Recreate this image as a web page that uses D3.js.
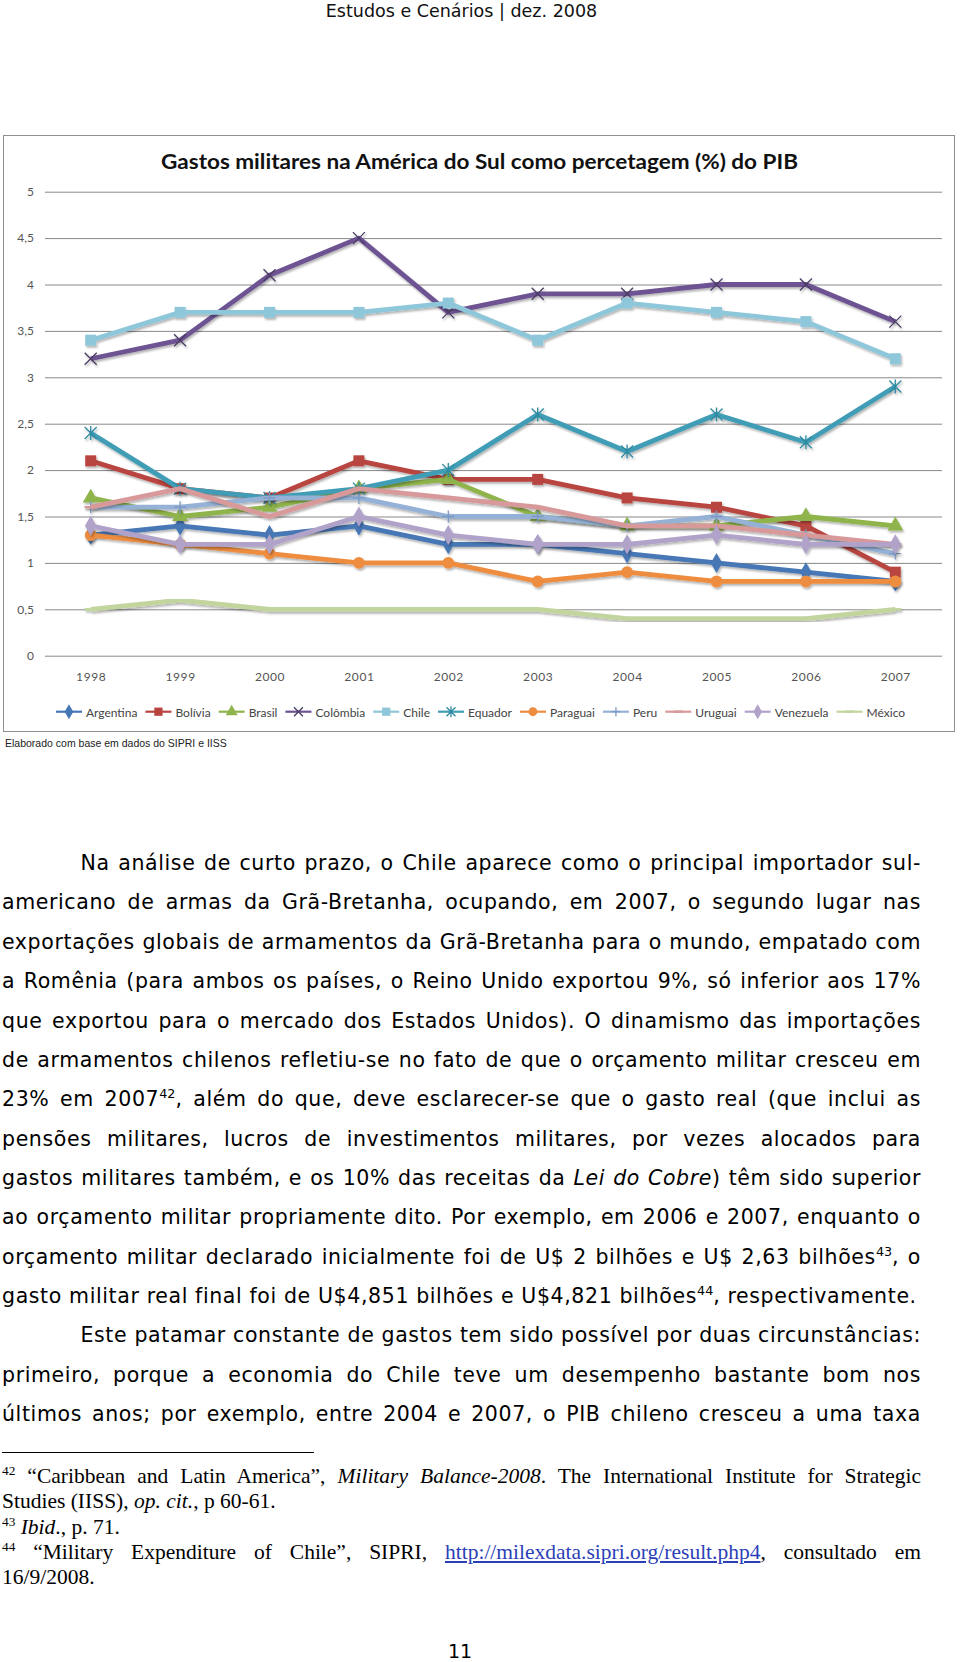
<!DOCTYPE html>
<html>
<head>
<meta charset="utf-8">
<script src="https://cdn.jsdelivr.net/npm/d3@7"></script>
<style>
  body { margin: 0; width: 960px; height: 1662px; background: #fff; position: relative; overflow: hidden; }
  #chart { position: absolute; left: 0; top: 0; }
  .ln { position: absolute; white-space: nowrap; color: #000; }
  .ln sup { font-size: 0.62em; vertical-align: 0.6em; line-height: 0; letter-spacing: 0; }
  .ln a { color: #2b3fb8; text-decoration: underline; }
  #head { position: absolute; left: 0; width: 923px; top: 0px; text-align: center;
          font: 17.5px "DejaVu Sans", sans-serif; line-height: 22px; color: #111; }
  #pagenum { position: absolute; left: 0; width: 920px; top: 1640px; text-align: center;
             font: 19px "DejaVu Sans", sans-serif; line-height: 22px; }
  #rule { position: absolute; left: 2px; top: 1452px; width: 312px; height: 1px; background: #000; }
</style>
</head>
<body>
<div id="head">Estudos e Cenários | dez. 2008</div>
<svg id="chart" width="960" height="760"></svg>
<div id="text"></div>
<div id="rule"></div>
<div id="pagenum">11</div>
<script>
// dados do gráfico (% do PIB)
const years = [1998, 1999, 2000, 2001, 2002, 2003, 2004, 2005, 2006, 2007];
const yTicks = [0, 0.5, 1, 1.5, 2, 2.5, 3, 3.5, 4, 4.5, 5];

const argentina = [1.3, 1.4, 1.3, 1.4, 1.2, 1.2, 1.1, 1.0, 0.9, 0.8];
const bolivia   = [2.1, 1.8, 1.7, 2.1, 1.9, 1.9, 1.7, 1.6, 1.4, 0.9];
const brasil    = [1.7, 1.5, 1.6, 1.8, 1.9, 1.5, 1.4, 1.4, 1.5, 1.4];
const colombia  = [3.2, 3.4, 4.1, 4.5, 3.7, 3.9, 3.9, 4.0, 4.0, 3.6];
const chile     = [3.4, 3.7, 3.7, 3.7, 3.8, 3.4, 3.8, 3.7, 3.6, 3.2];
const equador   = [2.4, 1.8, 1.7, 1.8, 2.0, 2.6, 2.2, 2.6, 2.3, 2.9];
const paraguai  = [1.3, 1.2, 1.1, 1.0, 1.0, 0.8, 0.9, 0.8, 0.8, 0.8];
const peru      = [1.6, 1.6, 1.7, 1.7, 1.5, 1.5, 1.4, 1.5, 1.3, 1.1];
const uruguai   = [1.6, 1.8, 1.5, 1.8, 1.7, 1.6, 1.4, 1.4, 1.3, 1.2];
const venezuela = [1.4, 1.2, 1.2, 1.5, 1.3, 1.2, 1.2, 1.3, 1.2, 1.2];
const mexico    = [0.5, 0.6, 0.5, 0.5, 0.5, 0.5, 0.4, 0.4, 0.4, 0.5];

const seriesNames = ["Argentina", "Bolívia", "Brasil", "Colômbia", "Chile", "Equador",
                     "Paraguai", "Peru", "Uruguai", "Venezuela", "México"];
const seriesValues = [argentina, bolivia, brasil, colombia, chile, equador,
                      paraguai, peru, uruguai, venezuela, mexico];
const seriesColors = ["#4677b5", "#b9443f", "#8fb44c", "#6d5392", "#8ec6da", "#3f9db5",
                      "#ee8d3f", "#95b1d6", "#d8999a", "#b0a2c8", "#c2d59f"];
const markerColors = ["#3d6aa6", "#b23a37", "#86ad42", "#4a3a63", "#8ec6da", "#2f8aa1",
                      "#ee8d3f", "#7b98c4", "#d8999a", "#a896c2", "#c2d59f"];
const seriesMarkers = ["diamond", "square", "triangle", "x", "square", "asterisk",
                       "circle", "plus", "dash", "diamond", "dash"];

const svg = d3.select("#chart");

const x = d3.scalePoint().domain(years).range([46, 940]).padding(0.5);
const y = d3.scaleLinear().domain([0, 5]).range([655.7, 191.7]);

const defs = svg.append("defs");
defs.append("filter").attr("id", "sh")
    .attr("x", "-5%").attr("y", "-5%").attr("width", "110%").attr("height", "120%")
  .append("feDropShadow")
    .attr("dx", 1.2).attr("dy", 2).attr("stdDeviation", 1.3)
    .attr("flood-color", "#000").attr("flood-opacity", 0.3);

// moldura
svg.append("rect")
    .attr("x", 3.5).attr("y", 135.5).attr("width", 951).attr("height", 596)
    .attr("fill", "#fff").attr("stroke", "#8f8f8f");

// título
svg.append("text")
    .attr("x", 479.5).attr("y", 168.5)
    .attr("text-anchor", "middle")
    .attr("textLength", 637).attr("lengthAdjust", "spacingAndGlyphs")
    .style("font-family", "Lato, 'Open Sans', sans-serif")
    .style("font-weight", "bold").style("font-size", "20.5px").style("fill", "#111")
    .text("Gastos militares na América do Sul como percetagem (%) do PIB");

// eixo y + linhas de grade
const ptBR = d3.formatLocale({ decimal: ",", thousands: ".", grouping: [3], currency: ["", ""] });
const yAxis = svg.append("g")
    .attr("transform", "translate(45,0)")
    .call(d3.axisLeft(y).tickValues(yTicks).tickSize(-897).tickPadding(11).tickFormat(ptBR.format("~g")));
yAxis.select(".domain").remove();
yAxis.selectAll("line").attr("stroke", "#888").attr("stroke-width", 1);
yAxis.selectAll("text").style("font-family", "Lato, sans-serif").style("font-size", "12px").style("fill", "#555");

// eixo x
const xAxis = svg.append("g")
    .attr("transform", "translate(0,655.7)")
    .call(d3.axisBottom(x).tickSize(0).tickPadding(17));
xAxis.select(".domain").remove();
xAxis.selectAll("text").style("font-family", "Lato, sans-serif").style("font-size", "12px")
    .style("fill", "#555").style("letter-spacing", "0.6px");

function drawMarker(g, type, cx, cy, fill, stroke, scale = 1) {
  const s = 6 * scale;
  if (type === "diamond" || type === "square" || type === "triangle" || type === "circle") {
    const sym = { diamond: d3.symbolDiamond, square: d3.symbolSquare, triangle: d3.symbolTriangle, circle: d3.symbolCircle }[type];
    const size = { diamond: 115, square: 121, triangle: 110, circle: 110 }[type] * scale * scale;
    g.append("path")
        .attr("d", d3.symbol(sym, size)())
        .attr("transform", `translate(${cx},${cy})`)
        .attr("fill", fill);
    return;
  }
  let d = "";
  if (type === "x" || type === "asterisk") d += `M${cx - s},${cy - s}L${cx + s},${cy + s}M${cx - s},${cy + s}L${cx + s},${cy - s}`;
  if (type === "asterisk") d += `M${cx},${cy - s - 1}L${cx},${cy + s + 1}`;
  if (type === "plus") d += `M${cx - s},${cy}L${cx + s},${cy}M${cx},${cy - s}L${cx},${cy + s}`;
  if (type === "dash") d += `M${cx - s},${cy}L${cx + s},${cy}`;
  g.append("path").attr("d", d).attr("fill", "none")
      .attr("stroke", stroke).attr("stroke-width", type === "dash" ? 2.5 : 1.3);
}

const line = d3.line().x((d, i) => x(years[i])).y(d => y(d));

seriesValues.forEach((vals, k) => {
  const g = svg.append("g").attr("filter", "url(#sh)");
  g.append("path")
      .attr("d", line(vals))
      .attr("fill", "none")
      .attr("stroke", seriesColors[k])
      .attr("stroke-width", 4.8)
      .attr("stroke-linejoin", "round");
  vals.forEach((v, i) => drawMarker(g, seriesMarkers[k], x(years[i]), y(v), seriesColors[k], markerColors[k]));
});

// legenda
const legend = svg.append("g");
let lx = 0;
seriesNames.forEach((name, k) => {
  const it = legend.append("g");
  it.append("line").attr("x1", 0).attr("x2", 26).attr("y1", 0).attr("y2", 0)
      .attr("stroke", seriesColors[k]).attr("stroke-width", 2.2);
  drawMarker(it, seriesMarkers[k], 13, 0, seriesColors[k], markerColors[k], 0.75);
  const t = it.append("text").attr("x", 30).attr("y", 5)
      .style("font-family", "Lato, sans-serif").style("font-size", "12px")
      .style("fill", "#444")
      .text(name);
  const w = 30 + t.node().getComputedTextLength();
  it.attr("transform", `translate(${lx},0)`);
  lx += w + 8;
});
const legendW = lx - 8;
legend.attr("transform", `translate(${480.5 - legendW / 2},711.7)`);

// fonte
svg.append("text")
    .attr("x", 5).attr("y", 747)
    .style("font-family", "'Liberation Sans', Arial, sans-serif").style("font-size", "10.5px")
    .style("fill", "#222")
    .text("Elaborado com base em dados do SIPRI e IISS");

// texto da página
const bodyLines = [
  "Na análise de curto prazo, o Chile aparece como o principal importador sul-",
  "americano de armas da Grã-Bretanha, ocupando, em 2007, o segundo lugar nas",
  "exportações globais de armamentos da Grã-Bretanha para o mundo, empatado com",
  "a Romênia (para ambos os países, o Reino Unido exportou 9%, só inferior aos 17%",
  "que exportou para o mercado dos Estados Unidos). O dinamismo das importações",
  "de armamentos chilenos refletiu-se no fato de que o orçamento militar cresceu em",
  "23% em 2007<sup>42</sup>, além do que, deve esclarecer-se que o gasto real (que inclui as",
  "pensões militares, lucros de investimentos militares, por vezes alocados para",
  "gastos militares também, e os 10% das receitas da <i>Lei do Cobre</i>) têm sido superior",
  "ao orçamento militar propriamente dito. Por exemplo, em 2006 e 2007, enquanto o",
  "orçamento militar declarado inicialmente foi de U$ 2 bilhões e U$ 2,63 bilhões<sup>43</sup>, o",
  "gasto militar real final foi de U$4,851 bilhões e U$4,821 bilhões<sup>44</sup>, respectivamente.",
  "Este patamar constante de gastos tem sido possível por duas circunstâncias:",
  "primeiro, porque a economia do Chile teve um desempenho bastante bom nos",
  "últimos anos; por exemplo, entre 2004 e 2007, o PIB chileno cresceu a uma taxa"
];
const bodyIndent = [0, 12];
const bodyRagged = [11];

const noteLines = [
  "<sup>42</sup> “Caribbean and Latin America”, <i>Military Balance-2008</i>. The International Institute for Strategic",
  "Studies (IISS), <i>op. cit.</i>, p 60-61.",
  "<sup>43</sup> <i>Ibid</i>., p. 71.",
  "<sup>44</sup> “Military Expenditure of Chile”, SIPRI, <a>http://milexdata.sipri.org/result.php4</a>, consultado em",
  "16/9/2008."
];
const noteJustified = [0, 3];

const textBox = d3.select("#text");
const leftX = 2, rightX = 921, indentX = 80.5;

function placeLine(html, opts) {
  const div = textBox.append("div").attr("class", "ln")
      .style("left", opts.left + "px")
      .style("top", opts.top + "px")
      .style("font-family", opts.font)
      .style("font-size", opts.size + "px")
      .style("letter-spacing", (opts.ls || 0) + "px")
      .style("line-height", opts.lh + "px");
  const span = div.append("span").html(html);
  if (opts.justify) {
    const w = span.node().getBoundingClientRect().width;
    const n = span.node().textContent.split(" ").length - 1;
    const target = rightX - opts.left;
    if (n > 0) span.style("word-spacing", ((target - w) / n) + "px");
  }
  return span;
}

// espaçamento das letras ajustado pela última linha do parágrafo (não justificada)
const bodyFont = "'DejaVu Sans', Verdana, sans-serif";
const bodySize = 20.5;
const probe = placeLine(bodyLines[11], { left: leftX, top: -200, font: bodyFont, size: bodySize, lh: 24, justify: false });
const probeW = probe.node().getBoundingClientRect().width;
const bodyLS = Math.max(0, Math.min(1, (916 - probeW) / probe.node().textContent.length));
probe.node().parentNode.remove();

bodyLines.forEach((t, i) => {
  const left = bodyIndent.includes(i) ? indentX : leftX;
  placeLine(t, {
    left, top: 864.5 + i * 39.36 - 13.4,
    font: bodyFont, size: bodySize, lh: 24, ls: bodyLS,
    justify: !bodyRagged.includes(i)
  });
});

noteLines.forEach((t, i) => {
  placeLine(t, {
    left: leftX, top: 1479 + i * 25.3 - 14.9,
    font: "'Liberation Serif', 'Times New Roman', serif", size: 21.5, lh: 25,
    justify: noteJustified.includes(i)
  });
});
</script>
</body>
</html>
